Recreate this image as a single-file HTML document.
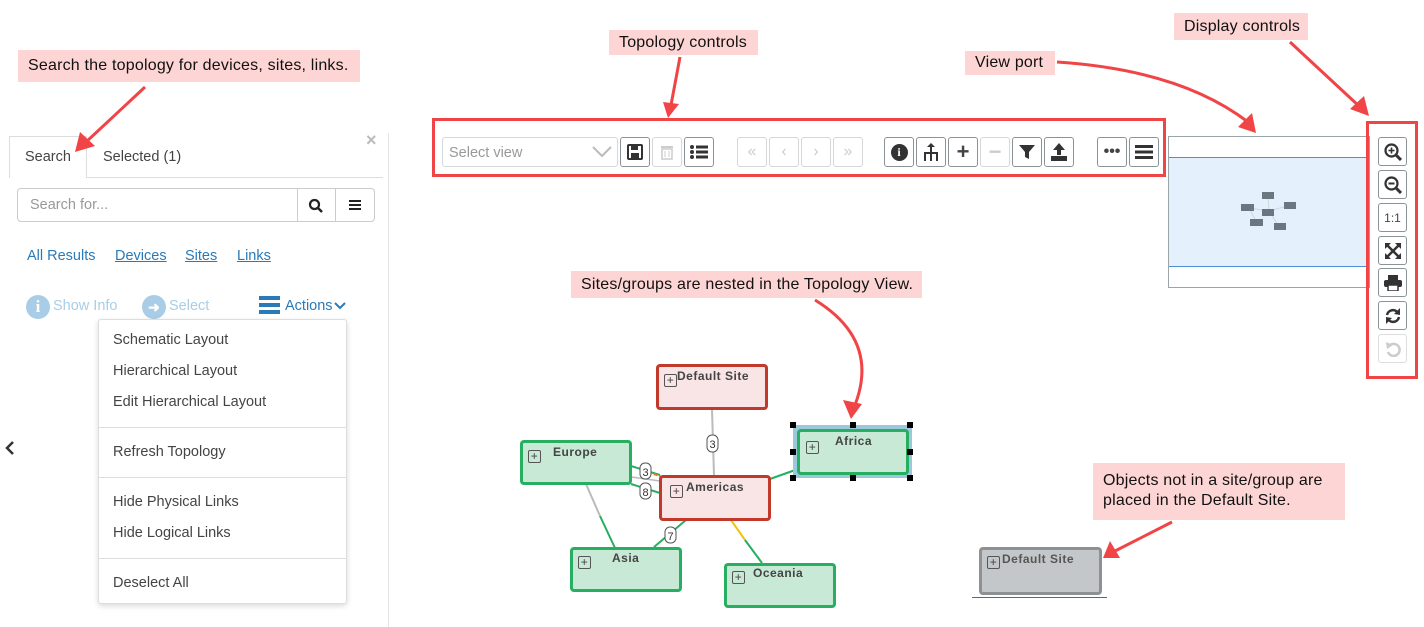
<!DOCTYPE html>
<html><head><meta charset="utf-8"><style>
*{margin:0;padding:0;box-sizing:border-box}
body{width:1424px;height:627px;background:#fff;position:relative;overflow:hidden;font-family:"Liberation Sans",sans-serif;color:#333}
.a{position:absolute}
.call{position:absolute;background:#fdd5d5;font-size:16px;letter-spacing:.2px;color:#111;padding:0 10px;line-height:26px;white-space:nowrap}
.btn{position:absolute;width:30px;height:30px;border:1px solid #8a9496;border-radius:3px;background:#fff;display:flex;align-items:center;justify-content:center;color:#444;font-size:16px;font-weight:bold}
.dis{border-color:#d5d8d9;color:#ccc}
.link{position:absolute;top:248px;font-size:14.5px;color:#2a7ab8;text-decoration:underline}
.mi{position:absolute;left:14px;font-size:14.5px;color:#444}
.sep{position:absolute;left:0;right:0;height:1px;background:#ddd}
.node{position:absolute;border:3px solid;border-radius:4px;font-size:12px;font-weight:bold;color:#444;letter-spacing:.5px}
.red{background:#f9e4e6;border-color:#c0392b}
.grn{background:#c8e9d5;border-color:#27ae60}
.pl{position:absolute;width:13px;height:13px;border:1px solid #555;border-radius:2px;font-size:12px;line-height:10px;text-align:center;color:#444;font-weight:normal}
.db{position:absolute;left:1378px;width:29px;height:29px;border:1px solid #8a9496;border-radius:3px;display:flex;align-items:center;justify-content:center;color:#444;font-size:16px;font-weight:bold}
</style></head><body>

<div class="call" style="left:18px;top:50px;width:342px;height:32px;line-height:32px">Search the topology for devices, sites, links.</div>
<div class="call" style="left:609px;top:30px;width:149px;height:25px;line-height:25px">Topology controls</div>
<div class="call" style="left:965px;top:51px;width:90px;height:24px;line-height:24px">View port</div>
<div class="call" style="left:1174px;top:13px;width:134px;height:27px;line-height:27px">Display controls</div>
<div class="call" style="left:571px;top:271px;width:351px;height:27px;line-height:27px">Sites/groups are nested in the Topology View.</div>
<div class="call" style="left:1093px;top:463px;width:252px;height:57px;line-height:20px;padding-top:8px">Objects not in a site/group are<br>placed in the Default Site.</div>

<!-- left panel -->
<div class="a" style="left:9px;top:136px;width:78px;height:42px;border:1px solid #ddd;border-bottom:none;background:#fff"></div>
<div class="a" style="left:87px;top:177px;width:296px;height:1px;background:#ddd"></div>
<div class="a" style="left:25px;top:149px;font-size:14.5px;color:#444">Search</div>
<div class="a" style="left:103px;top:149px;font-size:14.5px;color:#444">Selected (1)</div>
<div class="a" style="left:366px;top:130px;font-size:18px;color:#bbb;font-weight:bold">×</div>
<div class="a" style="left:388px;top:133px;width:1px;height:494px;background:#e3e3e3"></div>
<div class="a" style="left:17px;top:188px;width:358px;height:34px;border:1px solid #ccc;border-radius:4px"></div>
<div class="a" style="left:297px;top:189px;width:1px;height:32px;background:#ccc"></div>
<div class="a" style="left:335px;top:189px;width:1px;height:32px;background:#ccc"></div>
<div class="a" style="left:30px;top:197px;font-size:14.5px;color:#999">Search for...</div>
<svg class="a" style="left:308px;top:198px" width="16" height="16"><circle cx="6.5" cy="6.5" r="4.5" fill="none" stroke="#222" stroke-width="2.2"/><line x1="10" y1="10" x2="14" y2="14" stroke="#222" stroke-width="2.5"/></svg>
<div class="a" style="left:349px;top:200px;width:12px;height:2px;background:#222;box-shadow:0 4px 0 #222,0 8px 0 #222"></div>
<div class="link" style="left:27px;text-decoration:none">All Results</div>
<div class="link" style="left:115px">Devices</div>
<div class="link" style="left:185px">Sites</div>
<div class="link" style="left:237px">Links</div>
<div class="a" style="left:26px;top:295px;width:24px;height:24px;border-radius:50%;background:#a9cde6;color:#fff;font-weight:bold;text-align:center;line-height:24px;font-family:'Liberation Serif',serif;font-size:17px">i</div>
<div class="a" style="left:53px;top:298px;font-size:14.5px;color:#a9cde6">Show Info</div>
<div class="a" style="left:142px;top:295px;width:24px;height:24px;border-radius:50%;background:#a9cde6;color:#fff;font-weight:bold;text-align:center;line-height:24px;font-size:14px">➜</div>
<div class="a" style="left:169px;top:298px;font-size:14.5px;color:#a9cde6">Select</div>
<div class="a" style="left:259px;top:296px;width:21px;height:4px;background:#2a7ab8;box-shadow:0 7px 0 #2a7ab8,0 14px 0 #2a7ab8"></div>
<div class="a" style="left:285px;top:298px;font-size:14.5px;color:#2a7ab8">Actions</div>
<svg class="a" style="left:334px;top:302px" width="12" height="8"><polyline points="1,1 6,6 11,1" fill="none" stroke="#2a7ab8" stroke-width="2"/></svg>
<div class="a" style="left:98px;top:319px;width:249px;height:285px;border:1px solid #ddd;border-radius:3px;background:#fff;box-shadow:0 2px 6px rgba(0,0,0,.15)">
<div class="mi" style="top:12px">Schematic Layout</div>
<div class="mi" style="top:43px">Hierarchical Layout</div>
<div class="mi" style="top:74px">Edit Hierarchical Layout</div>
<div class="sep" style="top:107px"></div>
<div class="mi" style="top:124px">Refresh Topology</div>
<div class="sep" style="top:157px"></div>
<div class="mi" style="top:174px">Hide Physical Links</div>
<div class="mi" style="top:205px">Hide Logical Links</div>
<div class="sep" style="top:238px"></div>
<div class="mi" style="top:255px">Deselect All</div>
</div>
<svg class="a" style="left:4px;top:441px" width="12" height="14"><polyline points="9,1 3,7 9,13" fill="none" stroke="#333" stroke-width="2.5"/></svg>

<!-- toolbar -->
<div class="a" style="left:432px;top:118px;width:734px;height:59px;border:3px solid #f04447"></div>
<div class="a" style="left:442px;top:137px;width:176px;height:30px;border:1px solid #d5d8d9;border-radius:3px"></div>
<div class="a" style="left:449px;top:145px;font-size:14.5px;color:#999">Select view</div>
<svg class="a" style="left:592px;top:146px" width="20" height="12"><polyline points="1,1 10,10 19,1" fill="none" stroke="#bbb" stroke-width="2"/></svg>
<div class="btn" style="left:620px;top:137px"><svg width="16" height="16"><rect x="1" y="1" width="14" height="14" rx="1" fill="none" stroke="#333" stroke-width="2"/><rect x="4" y="2" width="7" height="4" fill="#333"/><rect x="4" y="9" width="8" height="5" fill="#333"/></svg></div>
<div class="btn dis" style="left:652px;top:137px"><svg width="14" height="16"><rect x="1" y="2" width="12" height="2" fill="#ccc"/><rect x="2" y="5" width="10" height="10" fill="none" stroke="#ccc" stroke-width="1.5"/><line x1="5" y1="7" x2="5" y2="13" stroke="#ccc"/><line x1="9" y1="7" x2="9" y2="13" stroke="#ccc"/></svg></div>
<div class="btn" style="left:684px;top:137px"><svg width="18" height="14"><g fill="#333"><circle cx="2" cy="2" r="2"/><circle cx="2" cy="7" r="2"/><circle cx="2" cy="12" r="2"/><rect x="6" y="0.5" width="12" height="3"/><rect x="6" y="5.5" width="12" height="3"/><rect x="6" y="10.5" width="12" height="3"/></g></svg></div>
<div class="btn dis" style="left:737px;top:137px;font-weight:normal">«</div>
<div class="btn dis" style="left:769px;top:137px;font-weight:normal">‹</div>
<div class="btn dis" style="left:801px;top:137px;font-weight:normal">›</div>
<div class="btn dis" style="left:833px;top:137px;font-weight:normal">»</div>
<div class="btn" style="left:884px;top:137px"><span style="display:inline-block;width:17px;height:17px;border-radius:50%;background:#333;color:#fff;font-size:12px;line-height:17px;text-align:center;font-family:'Liberation Serif',serif">i</span></div>
<div class="btn" style="left:916px;top:137px"><svg width="18" height="18"><g fill="#333"><polygon points="9,0 5,4 13,4"/><rect x="8" y="4" width="2" height="6"/><rect x="2" y="9" width="14" height="2"/><rect x="2" y="10" width="2" height="8"/><rect x="8" y="10" width="2" height="8"/><rect x="14" y="10" width="2" height="8"/></g></svg></div>
<div class="btn" style="left:948px;top:137px;font-size:22px">+</div>
<div class="btn dis" style="left:980px;top:137px;font-size:22px">−</div>
<div class="btn" style="left:1012px;top:137px"><svg width="16" height="16"><polygon points="0,1 16,1 10,8 10,15 6,13 6,8" fill="#333"/></svg></div>
<div class="btn" style="left:1044px;top:137px"><svg width="18" height="18"><g fill="#333"><polygon points="9,0 3,7 7,7 7,12 11,12 11,7 15,7"/><rect x="1" y="13" width="16" height="5"/></g></svg></div>
<div class="btn" style="left:1097px;top:137px">•••</div>
<div class="btn" style="left:1129px;top:137px"><svg width="18" height="14"><g fill="#333"><rect y="0" width="18" height="3"/><rect y="5.5" width="18" height="3"/><rect y="11" width="18" height="3"/></g></svg></div>

<!-- viewport -->
<div class="a" style="left:1168px;top:136px;width:202px;height:152px;border:1px solid #9aa5a8"></div>
<div class="a" style="left:1169px;top:157px;width:200px;height:110px;background:#e4f0fc;border-top:1px solid #4a90d9;border-bottom:1px solid #4a90d9"></div>
<svg class="a" style="left:1238px;top:188px" width="64" height="42">
<g stroke="#cfd6dc" stroke-width="1"><line x1="11" y1="20" x2="31" y2="23"/><line x1="11" y1="20" x2="18" y2="33"/><line x1="31" y1="23" x2="40" y2="37"/><line x1="31" y1="23" x2="53" y2="17"/><line x1="30" y1="8" x2="31" y2="23"/></g>
<g fill="#6b7680"><rect x="3" y="16" width="13" height="7"/><rect x="24" y="4" width="12" height="7"/><rect x="24" y="21" width="12" height="7"/><rect x="46" y="14" width="12" height="7"/><rect x="12" y="31" width="13" height="7"/><rect x="36" y="35" width="12" height="7"/></g></svg>

<!-- display controls -->
<div class="a" style="left:1366px;top:121px;width:52px;height:258px;border:3px solid #f04447"></div>
<div class="db" style="top:137px"><svg width="18" height="18"><circle cx="7.5" cy="7.5" r="6" fill="none" stroke="#333" stroke-width="2.2"/><line x1="12" y1="12" x2="17" y2="17" stroke="#333" stroke-width="3"/><line x1="4.5" y1="7.5" x2="10.5" y2="7.5" stroke="#333" stroke-width="1.6"/><line x1="7.5" y1="4.5" x2="7.5" y2="10.5" stroke="#333" stroke-width="1.6"/></svg></div>
<div class="db" style="top:170px"><svg width="18" height="18"><circle cx="7.5" cy="7.5" r="6" fill="none" stroke="#333" stroke-width="2.2"/><line x1="12" y1="12" x2="17" y2="17" stroke="#333" stroke-width="3"/><line x1="4.5" y1="7.5" x2="10.5" y2="7.5" stroke="#333" stroke-width="2"/></svg></div>
<div class="db" style="top:203px;font-size:12px;font-weight:normal">1:1</div>
<div class="db" style="top:236px"><svg width="16" height="16"><g stroke="#333" stroke-width="2.5"><line x1="2" y1="2" x2="14" y2="14"/><line x1="14" y1="2" x2="2" y2="14"/></g><g fill="#333"><polygon points="0,0 6,0 0,6"/><polygon points="16,0 10,0 16,6"/><polygon points="0,16 6,16 0,10"/><polygon points="16,16 10,16 16,10"/></g></svg></div>
<div class="db" style="top:268px"><svg width="18" height="16"><g fill="#333"><rect x="4" y="0" width="10" height="5"/><rect x="0" y="5" width="18" height="7" rx="2"/><rect x="4" y="10" width="10" height="6" fill="#fff" stroke="#333" stroke-width="1.5"/></g></svg></div>
<div class="db" style="top:301px"><svg width="18" height="18"><g fill="none" stroke="#333" stroke-width="2.5"><path d="M3 8 A6 6 0 0 1 14 6"/><path d="M15 10 A6 6 0 0 1 4 12"/></g><polygon points="16,1 16,8 10,7" fill="#333"/><polygon points="2,17 2,10 8,11" fill="#333"/></svg></div>
<div class="db" style="top:334px;border-color:#ddd"><svg width="16" height="16"><path d="M4 5 A6 6 0 1 1 3 11" fill="none" stroke="#ccc" stroke-width="2.5"/><polygon points="1,1 8,4 2,8" fill="#ccc"/></svg></div>

<!-- connectors -->
<svg class="a" style="left:0;top:0" width="1424" height="627">
<line x1="712" y1="409" x2="714" y2="476" stroke="#bbb" stroke-width="2"/>
<line x1="631" y1="466" x2="660" y2="475" stroke="#27ae60" stroke-width="2"/>
<line x1="648" y1="472" x2="662" y2="477" stroke="#e67e22" stroke-width="2" stroke-dasharray="4,2"/>
<line x1="631" y1="477" x2="660" y2="481" stroke="#bbb" stroke-width="1.5"/>
<line x1="631" y1="484" x2="660" y2="493" stroke="#27ae60" stroke-width="2"/>
<line x1="586" y1="484" x2="600" y2="516" stroke="#bbb" stroke-width="2"/>
<line x1="600" y1="516" x2="615" y2="548" stroke="#27ae60" stroke-width="2"/>
<line x1="686" y1="520" x2="654" y2="547" stroke="#27ae60" stroke-width="2"/>
<line x1="731" y1="520" x2="745" y2="540" stroke="#f1c40f" stroke-width="2"/>
<line x1="745" y1="540" x2="762" y2="563" stroke="#27ae60" stroke-width="2"/>
<line x1="770" y1="479" x2="798" y2="469" stroke="#27ae60" stroke-width="2"/>
<g font-family="Liberation Sans" font-size="11" fill="#333" text-anchor="middle">
<rect x="707" y="435" width="11" height="17" rx="5" fill="#fff" stroke="#555"/><text x="712.5" y="448">3</text>
<rect x="640" y="463" width="11" height="16" rx="5" fill="#fff" stroke="#555"/><text x="645.5" y="476">3</text>
<rect x="640" y="483" width="11" height="16" rx="5" fill="#fff" stroke="#555"/><text x="645.5" y="496">8</text>
<rect x="665" y="527" width="11" height="16" rx="5" fill="#fff" stroke="#555"/><text x="670.5" y="540">7</text>
</g>
<g stroke="#f04447" stroke-width="3" fill="none">
<line x1="145" y1="87" x2="85" y2="143"/>
<line x1="680" y1="57" x2="671" y2="105"/>
<path d="M1057 62 Q1180 70 1248 122"/>
<line x1="1290" y1="42" x2="1360" y2="107"/>
<path d="M815 300 Q880 340 855 405"/>
<line x1="1172" y1="522" x2="1115" y2="551"/>
</g>
<g fill="#f04447">
<polygon points="75,152 80,132 95,146"/>
<polygon points="668,118 663,102 679,104"/>
<polygon points="1256,133 1238,127 1252,113"/>
<polygon points="1369,116 1350,109 1364,96"/>
<polygon points="851,419 843,400 862,404"/>
<polygon points="1103,558 1110,541 1120,558"/>
</g>
</svg>

<!-- nodes -->
<div class="node red" style="left:656px;top:364px;width:112px;height:46px"><div class="pl" style="left:5px;top:7px">+</div><span class="a" style="left:18px;top:2px">Default Site</span></div>
<div class="node grn" style="left:520px;top:440px;width:112px;height:45px"><div class="pl" style="left:5px;top:7px">+</div><span class="a" style="left:30px;top:2px">Europe</span></div>
<div class="node red" style="left:659px;top:475px;width:112px;height:46px"><div class="pl" style="left:8px;top:7px">+</div><span class="a" style="left:24px;top:2px">Americas</span></div>
<div class="a" style="left:793px;top:425px;width:119px;height:53px;background:#9cc8de"></div>
<div class="node grn" style="left:797px;top:429px;width:112px;height:46px"><div class="pl" style="left:6px;top:9px">+</div><span class="a" style="left:35px;top:2px">Africa</span></div>
<div class="node grn" style="left:570px;top:547px;width:112px;height:45px"><div class="pl" style="left:5px;top:6px">+</div><span class="a" style="left:39px;top:1px">Asia</span></div>
<div class="node grn" style="left:724px;top:563px;width:112px;height:45px"><div class="pl" style="left:5px;top:5px">+</div><span class="a" style="left:26px;top:0px">Oceania</span></div>
<svg class="a" style="left:790px;top:422px" width="125" height="60"><g fill="#000"><rect x="0" y="0" width="6" height="6"/><rect x="60" y="0" width="6" height="6"/><rect x="117" y="0" width="6" height="6"/><rect x="0" y="27" width="6" height="6"/><rect x="117" y="27" width="6" height="6"/><rect x="0" y="53" width="6" height="6"/><rect x="60" y="53" width="6" height="6"/><rect x="117" y="53" width="6" height="6"/></g></svg>

<div class="node" style="left:979px;top:547px;width:123px;height:48px;background:#c4c7c9;border-color:#8d9193"><div class="pl" style="left:5px;top:6px">+</div><span class="a" style="left:20px;top:2px;color:#555">Default Site</span></div>
<div class="a" style="left:972px;top:597px;width:135px;height:1px;background:#666"></div>
</body></html>
